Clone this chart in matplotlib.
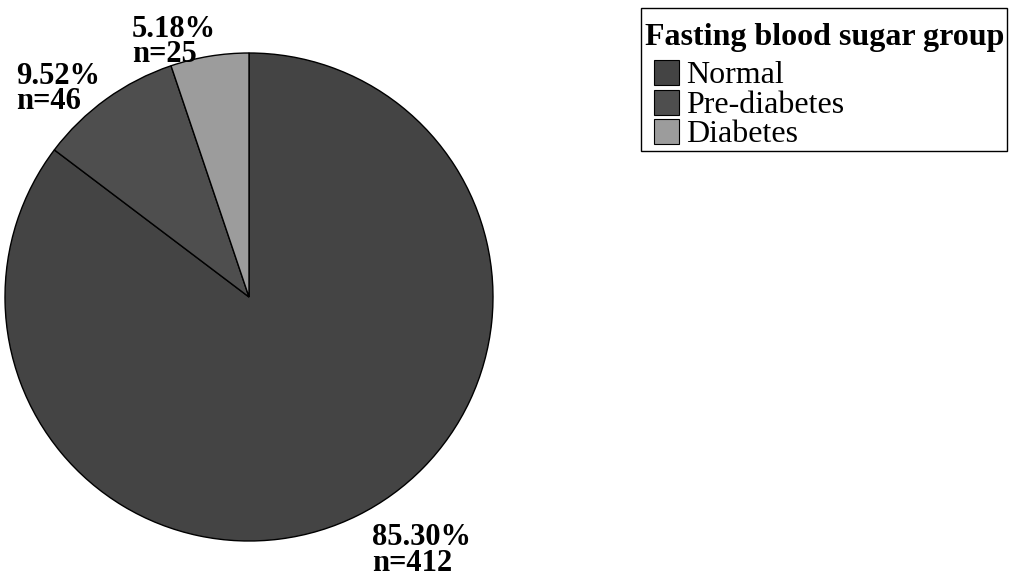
import matplotlib
matplotlib.use('Agg')
import matplotlib.pyplot as plt
from matplotlib.lines import Line2D
from matplotlib.patches import Rectangle

# data
groups = ['Normal', 'Pre-diabetes', 'Diabetes']
counts = [412, 46, 25]
percents = [85.30, 9.52, 5.18]
colors = ['#444444', '#4e4e4e', '#9c9c9c']

plt.rcParams['font.family'] = ['Liberation Serif', 'DejaVu Serif']

fig = plt.figure(figsize=(10.15, 5.78), dpi=100)
# pie centre ~ (249, 297) px, radius ~244 px
W, H = 1015, 578
cx, cy, r = 249, 297, 244
ax = fig.add_axes([(cx - r) / W, (H - cy - r) / H, 2 * r / W, 2 * r / H])

wedges, _ = ax.pie(counts, colors=colors, startangle=90, counterclock=False,
                   radius=1.0, frame=False,
                   wedgeprops=dict(edgecolor='black', linewidth=1.0))
ax.set_xlim(-1, 1)
ax.set_ylim(-1, 1)
ax.set_aspect('auto')
ax.axis('off')

# label positions (left edge, block centre), in pie radius units
label_pos = [(0.505, -1.04), (-0.955, 0.852), (-0.48, 1.045)]
for (lx, ly), p, n in zip(label_pos, percents, counts):
    ax.text(lx, ly, f'{p:.2f}%\nn={n}', ha='left', va='center',
            fontsize=22, fontweight='bold', linespacing=0.85, clip_on=False)

handles = [Line2D([], [], linestyle='none', marker='s', markersize=18,
                  markerfacecolor=c, markeredgecolor='black', markeredgewidth=0.8)
           for c in colors]
leg = fig.legend(handles, groups, title='Fasting blood sugar group',
                 loc='upper left', bbox_to_anchor=(645 / W, 1 - 23 / H),
                 borderaxespad=0, borderpad=0.0, handlelength=1.3,
                 handletextpad=0.0, labelspacing=0.0, fontsize=23,
                 title_fontproperties={'size': 23, 'weight': 'bold'},
                 alignment='left', frameon=False)
leg._legend_box.sep = 6.5  # a bit more room under the title

# frame drawn around the legend, with the reference's uneven padding
fig.canvas.draw()
bb = leg.get_window_extent()
pad_l, pad_r, pad_t, pad_b = 4, 3, 15, 2
frame = Rectangle((bb.x0 - pad_l, bb.y0 - pad_b),
                  bb.width + pad_l + pad_r, bb.height + pad_t + pad_b,
                  transform=None, fill=False, edgecolor='black', linewidth=1.0)
fig.add_artist(frame)

fig.savefig('out.png', dpi=100)
